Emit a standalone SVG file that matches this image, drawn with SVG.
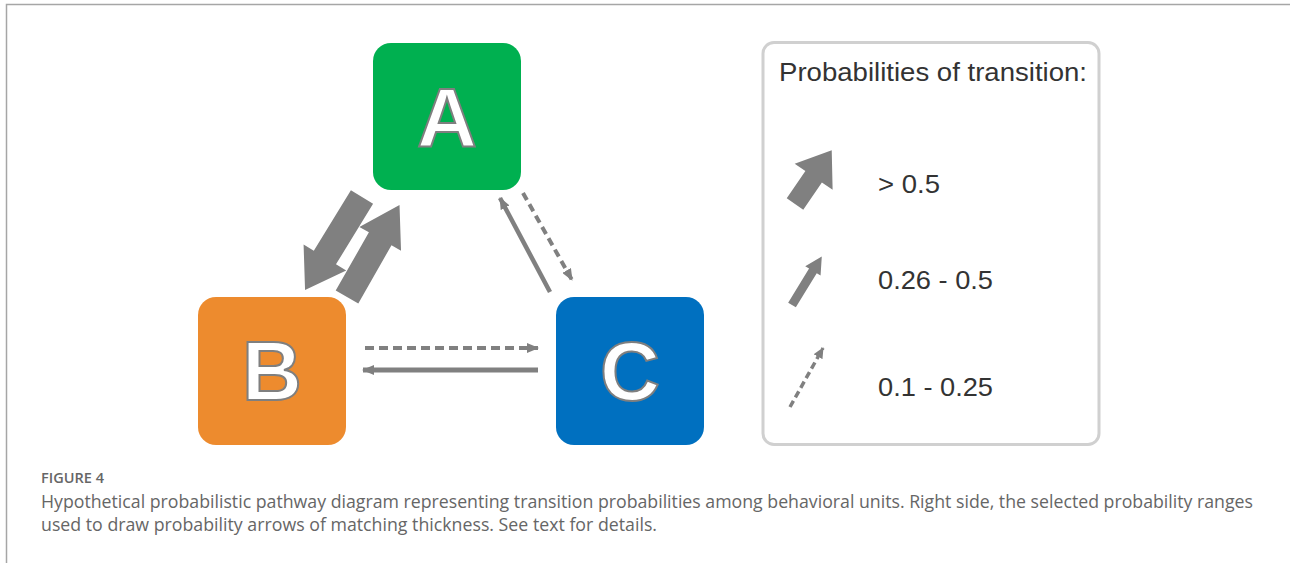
<svg xmlns="http://www.w3.org/2000/svg" width="1290" height="563" viewBox="0 0 1290 563">
  <style>
    .node-letter { font-family: "Liberation Sans", Arial, sans-serif; font-weight: bold; font-size: 83px; fill: #ffffff; stroke: #7f7f7f; stroke-width: 2; text-anchor: middle; }
    .legend-text { font-family: "Liberation Sans", Arial, sans-serif; font-size: 25px; fill: #333333; }
    .caption { font-family: "Open Sans", "Liberation Sans", sans-serif; fill: #666666; }
    .thick { fill: #808080; }
    .thin { stroke: #808080; fill: none; }
  </style>
  <defs>
    <marker id="head" viewBox="0 0 12 10" refX="11" refY="5" markerWidth="12" markerHeight="10" markerUnits="userSpaceOnUse" orient="auto">
      <path d="M0,0 L12,5 L0,10 z" fill="#808080"/>
    </marker>
    <marker id="headSmall" viewBox="0 0 11 10" refX="10" refY="5" markerWidth="11" markerHeight="10" markerUnits="userSpaceOnUse" orient="auto">
      <path d="M0,0 L11,5 L0,10 z" fill="#808080"/>
    </marker>
  </defs>

  <rect width="1290" height="563" fill="#ffffff"/>
  <!-- frame -->
  <path d="M6.5,563 L6.5,4.5 L1290,4.5" fill="none" stroke="#a6a6a6" stroke-width="1.5"/>

  <!-- nodes -->
  <g id="node-A">
    <rect x="373" y="43" width="148" height="147" rx="18" fill="#00b050"/>
    <text class="node-letter" x="447" y="147">A</text>
  </g>
  <g id="node-B">
    <rect x="198" y="297" width="148" height="148" rx="18" fill="#ed8b2e"/>
    <text class="node-letter" x="272" y="400">B</text>
  </g>
  <g id="node-C">
    <rect x="556" y="297" width="148" height="148" rx="18" fill="#0070c0"/>
    <text class="node-letter" x="630" y="400">C</text>
  </g>

  <!-- connectors -->
  <g id="connectors">
    <!-- A to B (>0.5) -->
    <polygon class="thick" transform="translate(362,197) rotate(121.5)" points="0,-13 71,-13 71,-25 109,0 71,25 71,13 0,13"/>
    <!-- B to A (>0.5) -->
    <polygon class="thick" transform="translate(347,297) rotate(-60.3)" points="0,-13 67,-13 67,-24 106,0 67,24 67,13 0,13"/>
    <!-- C to A (0.26-0.5) -->
    <line class="thin" x1="550" y1="292" x2="500" y2="198" stroke-width="4.5" marker-end="url(#head)"/>
    <!-- A to C (0.1-0.25) -->
    <line class="thin" x1="523" y1="193" x2="572" y2="280" stroke-width="4" stroke-dasharray="8,5" marker-end="url(#head)"/>
    <!-- B to C (0.1-0.25) -->
    <line class="thin" x1="365" y1="348" x2="538" y2="348" stroke-width="4" stroke-dasharray="9,5" marker-end="url(#head)"/>
    <!-- C to B (0.26-0.5) -->
    <line class="thin" x1="538" y1="370" x2="363" y2="370" stroke-width="5" marker-end="url(#head)"/>
  </g>

  <!-- legend -->
  <g id="legend">
    <rect x="763" y="42.5" width="336" height="402" rx="11" fill="#ffffff" stroke="#d0d0d0" stroke-width="3"/>
    <text class="legend-text" x="779" y="81" textLength="308" lengthAdjust="spacingAndGlyphs">Probabilities of transition:</text>
    <polygon class="thick" transform="translate(795,204) rotate(-55.6)" points="0,-10 33,-10 33,-23 65,0 33,23 33,10 0,10"/>
    <text class="legend-text" x="878" y="193" textLength="62" lengthAdjust="spacingAndGlyphs">&gt; 0.5</text>
    <polygon class="thick" transform="translate(792,305) rotate(-58.5)" points="0,-4.5 40,-4.5 40,-9 57,0 40,9 40,4.5 0,4.5"/>
    <text class="legend-text" x="878" y="289" textLength="115" lengthAdjust="spacingAndGlyphs">0.26 - 0.5</text>
    <line class="thin" x1="790" y1="407" x2="823" y2="348" stroke-width="3.5" stroke-dasharray="7,4" marker-end="url(#headSmall)"/>
    <text class="legend-text" x="878" y="396" textLength="115" lengthAdjust="spacingAndGlyphs">0.1 - 0.25</text>
  </g>

  <!-- caption -->
  <g id="caption">
    <text class="caption" x="41" y="483" font-size="13.5" font-weight="600" textLength="63" lengthAdjust="spacingAndGlyphs">FIGURE 4</text>
    <text class="caption" x="41" y="508" font-size="17.5" textLength="1212" lengthAdjust="spacingAndGlyphs">Hypothetical probabilistic pathway diagram representing transition probabilities among behavioral units. Right side, the selected probability ranges</text>
    <text class="caption" x="41" y="531" font-size="17.5" textLength="616" lengthAdjust="spacingAndGlyphs">used to draw probability arrows of matching thickness. See text for details.</text>
  </g>
</svg>
